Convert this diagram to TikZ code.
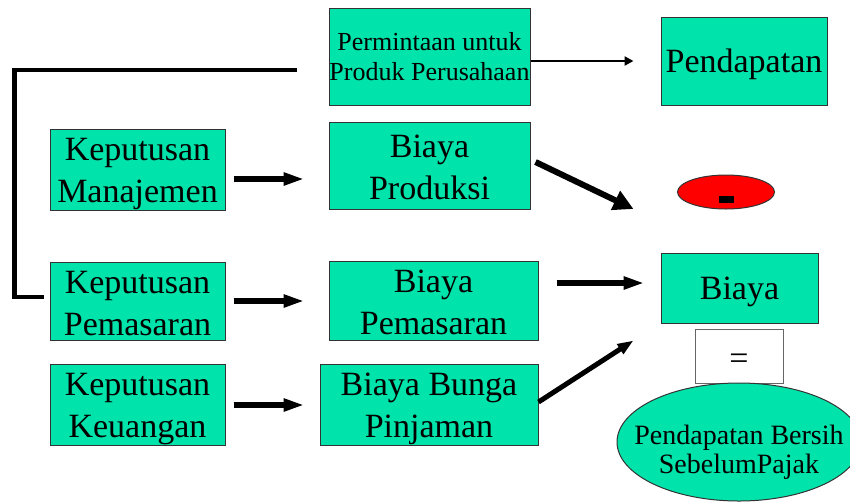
\documentclass[tikz,border=0pt]{standalone}
\usepackage{fontspec}
\setmainfont{Liberation Serif}
\usepackage{xcolor}
\usetikzlibrary{shapes,arrows.meta}

\definecolor{hijau}{RGB}{0,227,170}
\newcommand{\sstrut}{\rule[-5pt]{0pt}{36pt}}
\newcommand{\dua}[2]{\sstrut#1\\#2\sstrut}

\begin{document}
\begin{tikzpicture}[x=1pt,y=-1pt,
  blok/.style={rectangle,draw=black!80,line width=1pt,fill=hijau,inner sep=0pt,align=center},
  kotak/.style={blok,font=\fontsize{34}{42}\selectfont},
  panah/.style={line width=5.5pt,-{Triangle[length=21pt,width=12pt]}},
  tipis/.style={line width=2.8pt,-{Triangle[length=9pt,width=9pt]}}]

\useasboundingbox (0,0) rectangle (850,501);

% Keputusan
\node[kotak,minimum width=175pt,minimum height=78pt] (kman) at (137.5,170) {\dua{Keputusan}{Manajemen}};
\node[kotak,minimum width=175pt,minimum height=78pt] (kpem) at (137.5,301) {\dua{Keputusan}{Pemasaran}};
\node[kotak,minimum width=175pt,minimum height=78pt] (kkeu) at (137.5,405) {\dua{Keputusan}{Keuangan}};

% Permintaan dan biaya
\node[blok,font=\fontsize{26}{30}\selectfont,minimum width=201pt,minimum height=97pt] (perm) at (429.5,56.5) {Permintaan untuk\\Produk Perusahaan};
\node[kotak,minimum width=201pt,minimum height=87pt] (bprod) at (429.5,165.5) {\dua{Biaya}{Produksi}};
\node[kotak,minimum width=209pt,minimum height=79pt] (bpem) at (433.5,300.5) {\dua{Biaya}{Pemasaran}};
\node[kotak,minimum width=218pt,minimum height=78pt] (bbunga) at (429,405) {\dua{Biaya Bunga}{Pinjaman}};

% Hasil
\node[kotak,minimum width=166pt,minimum height=88pt] (pend) at (744,61) {\sstrut Pendapatan};
\node[ellipse,draw=black!80,line width=1pt,fill=red,inner sep=0pt,
  minimum width=97pt,minimum height=34pt] (kurang) at (726,192) {\rule{0pt}{22.5pt}\rule{15pt}{7.5pt}};
\node[kotak,minimum width=157pt,minimum height=70pt] (biaya) at (739.5,288) {\sstrut Biaya};
\node[kotak,fill=white,draw=black!60,minimum width=88pt,minimum height=54pt] (sama) at (739,356) {\sstrut=};
\node[ellipse,draw=black!80,line width=1pt,fill=hijau,inner xsep=-60pt,inner ysep=-20pt,
  minimum width=244pt,minimum height=118pt,align=center,font=\fontsize{28}{29}\selectfont] (laba) at (739,442)
  {\rule{0pt}{40pt}Pendapatan Bersih\\SebelumPajak};

% Garis siku
\draw[line width=4.7pt] ([xshift=-32pt,yshift=-13.5pt]perm.west) -| ([xshift=-35pt,yshift=4pt]kpem.west)
  -- ([xshift=-6pt,yshift=4pt]kpem.west);

% Panah
\draw[tipis,shorten >=27pt] ([yshift=-4.5pt]perm.east) -- ([yshift=-4.5pt]perm.east -| pend.west);
\draw[panah,shorten <=8pt,shorten >=24pt] ([yshift=-9pt]kman.east) -- ([yshift=-9pt]kman.east -| bprod.west);
\draw[panah,shorten <=8pt,shorten >=24pt] (kpem.east) -- (kpem.east -| bpem.west);
\draw[panah,shorten <=8pt,shorten >=15pt] (kkeu.east) -- (kkeu.east -| bbunga.west);
\draw[panah,line width=6pt,-{Triangle[length=20pt,width=20pt]}] ([xshift=5pt,yshift=3.5pt]bprod.east)
  -- ([xshift=-43.5pt,yshift=-17pt]kurang.west);
\draw[panah,shorten <=18pt,shorten >=16pt] ([yshift=17.5pt]bpem.east) -- ([yshift=17.5pt]bpem.east -| biaya.west);
\draw[panah,line width=5pt,-{Triangle[length=16pt,width=11pt]}] ([yshift=3pt]bbunga.east)
  -- ([xshift=-27pt,yshift=-17pt]biaya.south west);

\end{tikzpicture}
\end{document}
